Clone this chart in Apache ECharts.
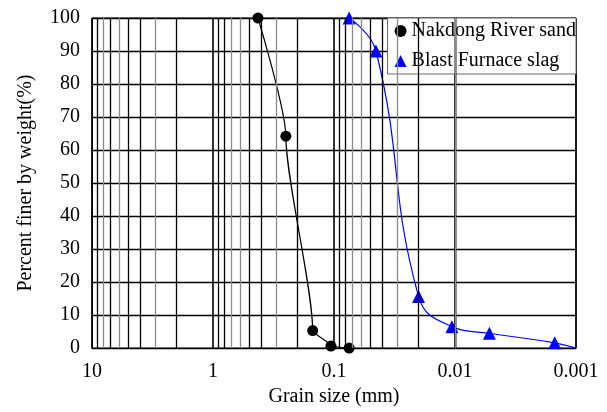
<!DOCTYPE html>
<html lang="en">
<head>
    <meta charset="UTF-8">
    <title>Grain size distribution</title>
    <style>
        body {
            margin: 0;
            background-color: white;
        }

        #chart {
            width: 607px;
            height: 412px;
        }
    </style>
</head>
<body>

    <div id="chart"></div>

    <script src="https://cdn.jsdelivr.net/npm/echarts@6/dist/echarts.min.js"></script>
    <script>

        // grain size (mm), percent finer
        const sandSize = [0.425, 0.25, 0.15, 0.106, 0.075];
        const sandFiner = [100, 64.2, 5.3, 0.6, 0];

        const slagSize = [0.075, 0.045, 0.02, 0.0106, 0.0052, 0.0015, 0.001];
        const slagFiner = [100, 90, 15.6, 6.5, 4.5, 1.6, 0];

        const xTickLabels = ['0.001', '0.01', '0.1', '1', '10'];
        const yTicks = [0, 10, 20, 30, 40, 50, 60, 70, 80, 90, 100];

        // minor log grid lines, some lighter as in the original
        const decades = [0.001, 0.01, 0.1, 1];
        const greyMinor = {
            0.001: [2, 4, 5, 9],
            0.01: [3, 6, 7],
            0.1: [3, 6, 7],
            1: [3, 6, 8],
        };

        const font = 'Liberation Serif, Times New Roman, serif';

        const minorLines = [];
        decades.forEach(d => {
            for (let m = 2; m <= 9; m++) {
                const grey = greyMinor[d].includes(m);
                minorLines.push({
                    xAxis: +(m * d).toPrecision(3),
                    lineStyle: { color: grey ? '#8a8a8a' : '#000', width: 1.3, type: 'solid', opacity: 1 },
                });
            }
        });

        const chart = echarts.init(document.getElementById('chart'));

        const option = {
            animation: false,
            grid: {
                left: 92,
                right: 31,
                top: 18,
                bottom: 56,
                show: true,
                borderColor: '#000',
                borderWidth: 1,
            },
            legend: {
                orient: 'vertical',
                right: 31,
                top: 18,
                backgroundColor: '#fff',
                borderColor: '#666',
                borderWidth: 1,
                borderRadius: 0,
                padding: [3, 0, 3, 7],
                itemGap: 10,
                itemWidth: 12,
                itemHeight: 12,
                textStyle: {
                    fontFamily: font,
                    fontSize: 20,
                    color: '#000',
                    lineHeight: 20,
                },
                data: [
                    { name: 'Nakdong River sand', icon: 'circle' },
                    { name: 'Blast Furnace slag', icon: 'triangle' },
                ],
            },
            xAxis: {
                type: 'log',
                logBase: 10,
                min: 0.001,
                max: 10,
                inverse: true,
                name: 'Grain size (mm)',
                nameLocation: 'middle',
                nameGap: 32,
                nameTextStyle: { fontFamily: font, fontSize: 20, color: '#000' },
                axisLine: { show: true, lineStyle: { color: '#000', width: 1 } },
                axisTick: { show: false },
                axisLabel: {
                    fontFamily: font,
                    fontSize: 20,
                    color: '#000',
                    margin: 14,
                    formatter: v => {
                        const i = Math.round(Math.log10(v)) + 3;
                        return xTickLabels[i];
                    },
                },
                splitLine: { show: true, lineStyle: { color: '#000', width: 1.6 } },
            },
            yAxis: {
                type: 'value',
                min: yTicks[0],
                max: yTicks[yTicks.length - 1],
                interval: 10,
                name: 'Percent finer by weight(%)',
                nameLocation: 'middle',
                nameGap: 56,
                nameTextStyle: { fontFamily: font, fontSize: 20, color: '#000' },
                axisLine: { show: true, lineStyle: { color: '#000', width: 1 } },
                axisTick: { show: false },
                axisLabel: {
                    fontFamily: font,
                    fontSize: 20,
                    color: '#000',
                    margin: 12,
                },
                splitLine: { show: true, lineStyle: { color: '#000', width: 1.3 } },
            },
            series: [
                {
                    name: 'minor',
                    type: 'line',
                    data: [],
                    silent: true,
                    z: 1,
                    markLine: {
                        silent: true,
                        symbol: 'none',
                        label: { show: false },
                        emphasis: { disabled: true },
                        animation: false,
                        data: minorLines,
                    },
                },
                {
                    name: 'Nakdong River sand',
                    type: 'line',
                    smooth: 0.22,
                    smoothMonotone: 'y',
                    symbol: 'circle',
                    symbolSize: 11,
                    z: 3,
                    itemStyle: { color: '#000' },
                    lineStyle: { color: '#000', width: 1.2 },
                    data: sandSize.map((s, i) => [s, sandFiner[i]]),
                },
                {
                    name: 'Blast Furnace slag',
                    type: 'line',
                    smooth: 0.45,
                    symbol: 'triangle',
                    symbolSize: 13,
                    z: 3,
                    itemStyle: { color: '#0000ff' },
                    lineStyle: { color: '#0000ff', width: 1.2 },
                    data: slagSize.map((s, i) => {
                        const p = { value: [s, slagFiner[i]] };
                        if (i === slagSize.length - 1) p.symbol = 'none';
                        return p;
                    }),
                },
            ],
        };

        chart.setOption(option);

    </script>
</body>
</html>
